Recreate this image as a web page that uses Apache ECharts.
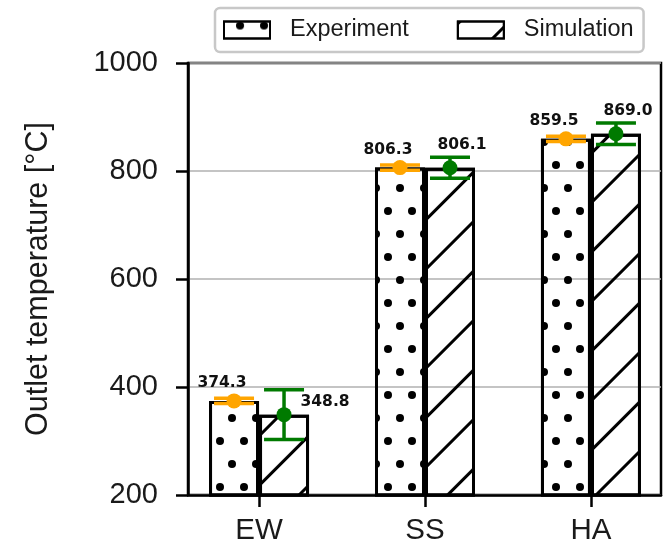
<!DOCTYPE html>
<html>
<head>
<meta charset="utf-8">
<script src="https://cdn.jsdelivr.net/npm/echarts@6/dist/echarts.min.js"></script>
<style>
  html, body { margin: 0; padding: 0; background: #fff; }
  #container { width: 667px; height: 547px; }
</style>
</head>
<body>
<div id="container"></div>
<script>
// values
var categories = ['EW', 'SS', 'HA'];
var experimentValues = [374.3, 806.3, 859.5];
var experimentErrors = [5, 5, 5];
var simulationValues = [348.8, 806.1, 869.0];
var simulationErrors = [46, 19.5, 20];
var yTicks = [200, 400, 600, 800, 1000];

var BAR_W = 50;
var ORANGE = '#ffa500';
var GREEN = '#007a00';

function pairs(vals) {
  return vals.map(function (v, i) { return [i, v]; });
}
function triples(vals, errs) {
  return vals.map(function (v, i) { return [i, v, errs[i]]; });
}

// vertical error bar with caps, shifted to the bar centre
function errorBar(shift, color) {
  return function (params, api) {
    var i = api.value(0);
    var hi = api.coord([i, api.value(1) + api.value(2)]);
    var lo = api.coord([i, api.value(1) - api.value(2)]);
    var x = hi[0] + shift;
    var half = 20;
    var st = { stroke: color, lineWidth: 3.5 };
    return {
      type: 'group',
      children: [
        { type: 'line', shape: { x1: x, y1: hi[1], x2: x, y2: lo[1] }, style: st },
        { type: 'line', shape: { x1: x - half, y1: hi[1], x2: x + half, y2: hi[1] }, style: st },
        { type: 'line', shape: { x1: x - half, y1: lo[1], x2: x + half, y2: lo[1] }, style: st }
      ]
    };
  };
}

var dotDecal = {
  symbol: 'circle',
  symbolSize: 1,
  color: '#000',
  backgroundColor: null,
  dashArrayX: [[8, 16], [0, 12, 8, 4]],
  dashArrayY: [8, 15]
};
var hatchDecal = {
  symbol: 'rect',
  symbolSize: 1,
  color: '#000',
  backgroundColor: null,
  dashArrayX: [1, 0],
  dashArrayY: [3, 32],
  rotation: -Math.PI / 4
};

var labelStyle = {
  show: true,
  fontFamily: 'DejaVu Sans',
  fontWeight: 'bold',
  fontSize: 15.5,
  color: '#111',
  formatter: function (p) { return p.value[1].toFixed(1); }
};

var simPoints = pairs(simulationValues).map(function (d, i) {
  if (i === 0) {
    // EW label sits beside the error bar
    return { value: d, label: { position: 'right', distance: 9, offset: [0, -13] } };
  }
  return d;
});

var option = {
  animation: false,
  textStyle: { fontFamily: "'Liberation Sans', Arial, sans-serif" },
  grid: {
    left: 188, right: 6, top: 63, bottom: 52,
    show: true, borderColor: '#000', borderWidth: 2.5
  },
  legend: {
    data: ['Experiment', 'Simulation'],
    left: 215, top: 8,
    padding: [10, 10, 10, 8],
    icon: 'rect',
    itemWidth: 46, itemHeight: 17, itemGap: 48,
    backgroundColor: '#fff',
    borderColor: '#c8c8c8', borderWidth: 2.5, borderRadius: 5,
    selectedMode: false,
    textStyle: { fontSize: 23.5, color: '#1a1a1a', padding: [0, 0, 0, 15] }
  },
  xAxis: {
    type: 'value',
    min: -0.428, max: 2.422,
    axisLine: { onZero: false, lineStyle: { color: '#000', width: 2.5 } },
    axisTick: { customValues: [0, 1, 2], length: 12, lineStyle: { color: '#000', width: 2.5 } },
    axisLabel: {
      customValues: [0, 1, 2],
      formatter: function (v) { return categories[Math.round(v)]; },
      fontSize: 29.5, color: '#1a1a1a', margin: 21
    },
    splitLine: { show: false }
  },
  yAxis: {
    type: 'value',
    min: yTicks[0], max: yTicks[yTicks.length - 1], interval: 200,
    name: 'Outlet temperature [°C]',
    nameLocation: 'middle', nameGap: 134,
    nameTextStyle: { fontSize: 30.5, color: '#1a1a1a' },
    axisLine: { show: true, onZero: false, lineStyle: { color: '#000', width: 2.5 } },
    axisTick: { show: true, length: 12, lineStyle: { color: '#000', width: 2.5 } },
    axisLabel: {
      fontSize: 29, color: '#1a1a1a', margin: 30,
      formatter: function (v) { return String(v); }
    },
    splitLine: { lineStyle: { color: '#b0b0b0', width: 1.5 } }
  },
  series: [
    {
      name: 'Experiment', type: 'bar', barWidth: BAR_W, barGap: '0%', z: 2,
      data: pairs(experimentValues),
      itemStyle: { color: 'rgba(0,0,0,0)', borderColor: '#000', borderWidth: 3, decal: dotDecal }
    },
    {
      name: 'Simulation', type: 'bar', barWidth: BAR_W, barGap: '0%', z: 2,
      data: pairs(simulationValues),
      itemStyle: { color: 'rgba(0,0,0,0)', borderColor: '#000', borderWidth: 3, decal: hatchDecal }
    },
    {
      type: 'custom', z: 3, renderItem: errorBar(-BAR_W / 2, ORANGE),
      encode: { x: 0, y: 1 }, data: triples(experimentValues, experimentErrors)
    },
    {
      type: 'custom', z: 3, renderItem: errorBar(BAR_W / 2, GREEN),
      encode: { x: 0, y: 1 }, data: triples(simulationValues, simulationErrors)
    },
    {
      type: 'scatter', z: 4, symbolSize: 15, symbolOffset: [-BAR_W / 2, 0],
      itemStyle: { color: ORANGE, opacity: 1 },
      label: Object.assign({ position: 'top', distance: 2, offset: [-12, 0] }, labelStyle),
      data: pairs(experimentValues)
    },
    {
      type: 'scatter', z: 4, symbolSize: 15, symbolOffset: [BAR_W / 2, 0],
      itemStyle: { color: GREEN, opacity: 1 },
      label: Object.assign({ position: 'top', distance: 7, offset: [12, 0] }, labelStyle),
      data: simPoints
    }
  ]
};

var myChart = echarts.init(document.getElementById('container'));
myChart.setOption(option);
</script>
</body>
</html>
